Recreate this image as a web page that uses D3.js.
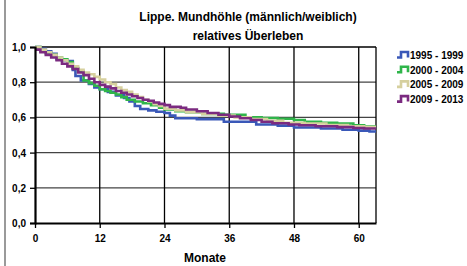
<!DOCTYPE html>
<html>
<head>
<meta charset="utf-8">
<script src="https://cdn.jsdelivr.net/npm/d3@7"></script>
<style>
  body { margin: 0; background: #fff; }
  text { font-family: "Liberation Sans", Arial, sans-serif; font-weight: bold; fill: #000; }
</style>
</head>
<body>
<script>
var titleLines = ["Lippe. Mundhöhle (männlich/weiblich)", "relatives Überleben"];
var xLabel = "Monate";
var xTicks = [0, 12, 24, 36, 48, 60];
var yTicks = [0, 0.2, 0.4, 0.6, 0.8, 1.0];

var seriesNames = ["1995 - 1999", "2000 - 2004", "2005 - 2009", "2009 - 2013"];
var seriesColors = ["#3a58b8", "#2fb54a", "#d6d09e", "#7b2a80"];

// months / relative survival
var t1995 = [0, 1, 2, 3, 4, 5, 6, 7, 7.5, 8.5, 10, 11, 12, 13.5, 15, 16.5, 17.5, 18.5, 19.5, 21, 22.5, 24, 25, 26, 30, 35, 41, 45, 48, 53, 57, 60, 62, 64];
var v1995 = [1.0, 0.99, 0.975, 0.962, 0.93, 0.925, 0.92, 0.87, 0.835, 0.81, 0.79, 0.77, 0.76, 0.745, 0.725, 0.71, 0.69, 0.665, 0.648, 0.64, 0.632, 0.625, 0.61, 0.595, 0.59, 0.575, 0.56, 0.553, 0.543, 0.537, 0.53, 0.525, 0.52, 0.52];

var t2000 = [0, 1, 2, 3, 4, 5, 6, 7, 8, 9, 10, 11, 12, 13, 14, 15, 16, 17, 18.5, 20, 21.5, 23, 24, 26, 28, 31, 35, 39, 42, 45, 48, 50, 53, 56, 59, 61, 64];
var v2000 = [1.0, 0.98, 0.965, 0.955, 0.94, 0.93, 0.915, 0.88, 0.86, 0.81, 0.795, 0.78, 0.76, 0.75, 0.74, 0.73, 0.715, 0.70, 0.69, 0.68, 0.67, 0.655, 0.645, 0.635, 0.63, 0.62, 0.615, 0.60, 0.597, 0.592, 0.585, 0.575, 0.57, 0.565, 0.555, 0.548, 0.548];

var t2005 = [0, 1, 2, 3, 4, 5, 6, 7, 8, 9, 10, 11, 12, 13, 14, 15, 16, 17, 18, 19, 20, 21, 22, 23, 24, 26, 28, 31, 34, 37, 40, 43, 46, 50, 54, 58, 61, 64];
var v2005 = [1.0, 0.985, 0.97, 0.955, 0.94, 0.925, 0.905, 0.89, 0.87, 0.855, 0.845, 0.83, 0.815, 0.80, 0.79, 0.77, 0.755, 0.745, 0.73, 0.715, 0.70, 0.69, 0.675, 0.665, 0.65, 0.64, 0.63, 0.62, 0.61, 0.60, 0.59, 0.58, 0.57, 0.565, 0.557, 0.55, 0.545, 0.545];

var t2009 = [0, 1, 2, 3, 4, 5, 6, 7, 8, 9, 10, 11, 12, 13, 14, 15, 16, 17, 18, 19, 20, 21, 22, 23, 24, 25, 27, 28, 30, 32, 34, 36, 38, 40, 42, 44, 47, 49, 52, 56, 59, 61, 64];
var v2009 = [0.985, 0.97, 0.955, 0.94, 0.925, 0.905, 0.89, 0.875, 0.855, 0.84, 0.82, 0.80, 0.785, 0.775, 0.765, 0.75, 0.74, 0.73, 0.72, 0.71, 0.70, 0.695, 0.685, 0.677, 0.67, 0.66, 0.655, 0.645, 0.635, 0.625, 0.615, 0.605, 0.595, 0.585, 0.575, 0.567, 0.56, 0.555, 0.55, 0.545, 0.54, 0.537, 0.537];

var seriesT = [t1995, t2000, t2005, t2009];
var seriesV = [v1995, v2000, v2005, v2009];

var svg = d3.select("body").append("svg").attr("width", 467).attr("height", 266);

var x = d3.scaleLinear().domain([0, 63.2]).range([35, 376]);
var y = d3.scaleLinear().domain([0, 1]).range([223, 47]);

// left frame line
svg.append("line").attr("x1", 5).attr("y1", 0).attr("x2", 5).attr("y2", 266)
    .attr("stroke", "#9a9a9a").attr("stroke-width", 2);

// title
svg.selectAll("text.title").data(titleLines).enter().append("text")
    .attr("class", "title")
    .attr("x", 248).attr("y", function(d, i) { return 21 + i * 19; })
    .attr("text-anchor", "middle").attr("font-size", 12)
    .text(function(d) { return d; });

// horizontal grid
svg.selectAll("line.hgrid").data(yTicks.filter(function(d) { return d > 0 && d < 1; })).enter().append("line")
    .attr("class", "hgrid")
    .attr("x1", x(0)).attr("x2", 376)
    .attr("y1", function(d) { return y(d); }).attr("y2", function(d) { return y(d); })
    .attr("stroke", "#444").attr("stroke-width", 1.3);

// vertical grid
svg.selectAll("line.vgrid").data(xTicks.filter(function(d) { return d > 0; })).enter().append("line")
    .attr("class", "vgrid")
    .attr("y1", y(0)).attr("y2", y(1))
    .attr("x1", function(d) { return x(d); }).attr("x2", function(d) { return x(d); })
    .attr("stroke", "#000").attr("stroke-width", 1.3);

// frame top / right
svg.append("line").attr("x1", x(0)).attr("x2", 376).attr("y1", y(1)).attr("y2", y(1))
    .attr("stroke", "#000").attr("stroke-width", 1.3);
svg.append("line").attr("x1", 376).attr("x2", 376).attr("y1", y(1)).attr("y2", y(0))
    .attr("stroke", "#000").attr("stroke-width", 1.3);

// curves
var clip = svg.append("clipPath").attr("id", "plotclip").append("rect")
    .attr("x", x(0)).attr("y", y(1) - 3).attr("width", 376 - x(0)).attr("height", y(0) - y(1) + 3);

var line = d3.line()
    .x(function(d) { return x(d[0]); })
    .y(function(d) { return y(d[1]); })
    .curve(d3.curveStepAfter);

svg.append("g").attr("clip-path", "url(#plotclip)")
  .selectAll("path.km").data(seriesNames).enter().append("path")
    .attr("class", "km")
    .attr("d", function(d, i) { return line(d3.zip(seriesT[i], seriesV[i])); })
    .attr("fill", "none")
    .attr("stroke", function(d, i) { return seriesColors[i]; })
    .attr("stroke-width", 2.6);

// axes
var yAxis = d3.axisLeft(y).tickValues(yTicks).tickSize(5).tickFormat(function(d) { return d3.format(".1f")(d).replace(".", ","); });
var gy = svg.append("g").attr("transform", "translate(" + x(0) + ",0)").call(yAxis);
gy.select(".domain").attr("stroke-width", 2.2);
gy.selectAll(".tick line").attr("stroke-width", 1.3);
gy.selectAll(".tick text").attr("font-size", 10).attr("font-family", null).attr("x", -9).attr("dy", "0.35em");

var xAxis = d3.axisBottom(x).tickValues(xTicks).tickSize(5).tickSizeOuter(0);
var gx = svg.append("g").attr("transform", "translate(0," + y(0) + ")").call(xAxis);
gx.select(".domain").attr("stroke-width", 2.2);
gx.selectAll(".tick line").attr("stroke-width", 1.3);
gx.selectAll(".tick text").attr("font-size", 10).attr("font-family", null).attr("y", 12).attr("dy", "0.71em");

svg.append("text").attr("x", 205).attr("y", 262).attr("text-anchor", "middle")
    .attr("font-size", 12).text(xLabel);

// legend
var lg = svg.selectAll("g.legend").data(seriesNames).enter().append("g")
    .attr("class", "legend")
    .attr("transform", function(d, i) { return "translate(397," + (59 + i * 14.7) + ")"; });
lg.append("path")
    .attr("d", "M0,-1.5 H4 V-7 H11 V-1.5")
    .attr("fill", "none")
    .attr("stroke", function(d, i) { return seriesColors[i]; })
    .attr("stroke-width", 2.6);
lg.append("text").attr("x", 13).attr("y", 0).attr("font-size", 10)
    .text(function(d) { return d; });
</script>
</body>
</html>
